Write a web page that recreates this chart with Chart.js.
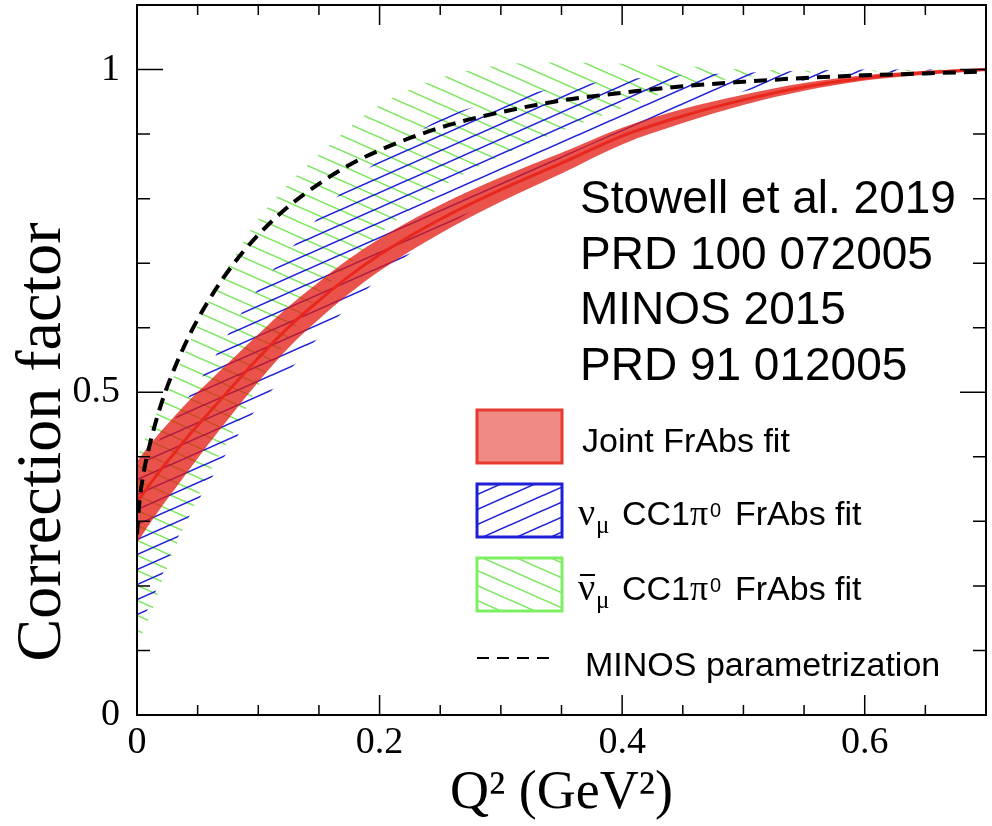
<!DOCTYPE html>
<html>
<head>
<meta charset="utf-8">
<script src="https://cdn.jsdelivr.net/npm/chart.js@4.4.1/dist/chart.umd.min.js"></script>
<style>
  html, body { margin: 0; padding: 0; background: #fff; }
  #wrap { width: 992px; height: 826px; }
</style>
</head>
<body>
<div id="wrap"><canvas id="corrChart" width="992" height="826"></canvas></div>
<script>
// Q2 grid (GeV^2) shared by the fit bands
const q2 = [0, 0.005, 0.01, 0.02, 0.03, 0.045, 0.06, 0.08, 0.1, 0.125, 0.15, 0.175, 0.2, 0.25, 0.3, 0.35, 0.4, 0.45, 0.5, 0.55, 0.6, 0.65, 0.7];

// joint FrAbs fit (red band + central line)
const jointLow  = [0.267, 0.281, 0.295, 0.322, 0.347, 0.385, 0.422, 0.470, 0.516, 0.569, 0.613, 0.653, 0.688, 0.746, 0.795, 0.839, 0.884, 0.917, 0.945, 0.967, 0.983, 0.992, 0.998];
const jointMid  = [0.330, 0.343, 0.356, 0.381, 0.404, 0.438, 0.470, 0.512, 0.553, 0.601, 0.642, 0.680, 0.713, 0.768, 0.814, 0.855, 0.897, 0.928, 0.953, 0.973, 0.987, 0.995, 1.000];
const jointHigh = [0.393, 0.405, 0.417, 0.440, 0.461, 0.491, 0.518, 0.554, 0.590, 0.633, 0.671, 0.707, 0.738, 0.790, 0.833, 0.871, 0.910, 0.939, 0.961, 0.979, 0.991, 0.998, 1.002];

// numu CC1pi0 fit (blue hatch)
const numuLow  = [0.130, 0.150, 0.168, 0.213, 0.260, 0.314, 0.362, 0.424, 0.478, 0.532, 0.586, 0.634, 0.677, 0.750, 0.808, 0.862, 0.904, 0.940, 0.966, 0.983, 0.993, 0.998, 1.000];
const numuHigh = [0.375, 0.390, 0.405, 0.430, 0.455, 0.500, 0.542, 0.605, 0.660, 0.718, 0.772, 0.822, 0.860, 0.923, 0.953, 0.972, 0.984, 0.991, 0.995, 0.998, 1.000, 1.000, 1.000];

// numubar CC1pi0 fit (green hatch)
const numubarLow  = [0.100, 0.130, 0.150, 0.203, 0.253, 0.316, 0.377, 0.440, 0.510, 0.585, 0.652, 0.697, 0.745, 0.817, 0.866, 0.905, 0.940, 0.972, 0.988, 0.995, 0.998, 1.000, 1.000];
const numubarHigh = [0.400, 0.420, 0.445, 0.482, 0.523, 0.584, 0.644, 0.710, 0.768, 0.823, 0.868, 0.910, 0.945, 0.987, 1.007, 1.011, 1.009, 1.005, 1.000, 0.998, 0.997, 0.998, 1.000];

// MINOS parametrization (dashed)
const minosQ2    = [0, 0.002, 0.005, 0.01, 0.02, 0.03, 0.045, 0.06, 0.08, 0.1, 0.125, 0.15, 0.175, 0.2, 0.25, 0.3, 0.35, 0.4, 0.45, 0.5, 0.55, 0.6, 0.65, 0.7];
const minosParam = [0.280, 0.330, 0.370, 0.415, 0.482, 0.533, 0.595, 0.645, 0.700, 0.744, 0.788, 0.823, 0.852, 0.875, 0.910, 0.934, 0.952, 0.964, 0.974, 0.981, 0.987, 0.991, 0.994, 0.997];

const xTickLabels = [0, 0.2, 0.4, 0.6];
const yTickLabels = [0, 0.5, 1];
const infoLines = ['Stowell et al. 2019', 'PRD 100 072005', 'MINOS 2015', 'PRD 91 012005'];

const pts = (xs, ys) => xs.map((x, i) => ({x: x, y: ys[i]}));

function hatch(color, rising) {
  const w = 34, h = 15;
  const c = document.createElement('canvas');
  c.width = w; c.height = h;
  const g = c.getContext('2d');
  g.strokeStyle = color;
  g.lineWidth = 1.6;
  for (const dx of [-w, 0, w]) {
    for (const dy of [-h, 0, h]) {
      g.beginPath();
      if (rising) { g.moveTo(dx, h + dy); g.lineTo(w + dx, dy); }
      else { g.moveTo(dx, dy); g.lineTo(w + dx, h + dy); }
      g.stroke();
    }
  }
  return g.createPattern(c, 'repeat');
}

const bluePattern = hatch('#1f1fd8', true);
const greenPattern = hatch('#7de860', false);

// frame, inward ticks, legend and text, ROOT style
const decorations = {
  id: 'decorations',
  afterDraw(chart) {
    const ctx = chart.ctx;
    const a = chart.chartArea;
    const x = chart.scales.x, y = chart.scales.y;
    ctx.save();

    ctx.strokeStyle = '#000';
    ctx.lineWidth = 1.5;
    ctx.beginPath();
    for (let k = 1; k < 14; k++) {
      const px = x.getPixelForValue(k * 0.05);
      const len = k % 4 === 0 ? 20 : 10;
      ctx.moveTo(px, a.bottom); ctx.lineTo(px, a.bottom - len);
      ctx.moveTo(px, a.top); ctx.lineTo(px, a.top + len);
    }
    for (let k = 1; k <= 10; k++) {
      const py = y.getPixelForValue(k * 0.1);
      const len = k % 5 === 0 ? 26 : 13;
      ctx.moveTo(a.left, py); ctx.lineTo(a.left + len, py);
      ctx.moveTo(a.right, py); ctx.lineTo(a.right - len, py);
    }
    ctx.stroke();
    ctx.lineWidth = 2;
    ctx.strokeRect(a.left, a.top, a.right - a.left, a.bottom - a.top);

    // y axis title
    ctx.fillStyle = '#000';
    ctx.save();
    ctx.translate(43, 442);
    ctx.rotate(-Math.PI / 2);
    ctx.font = '64px "Liberation Serif"';
    ctx.textAlign = 'center';
    ctx.textBaseline = 'middle';
    ctx.fillText('Correction factor', 0, 0);
    ctx.restore();

    // reference text
    ctx.font = '46px "Liberation Sans"';
    ctx.textAlign = 'left';
    ctx.textBaseline = 'alphabetic';
    infoLines.forEach((t, i) => ctx.fillText(t, 580, 213 + i * 55.5));

    // legend
    const bx = 477, bw = 85, bh = 53;
    ctx.fillStyle = '#f08a84';
    ctx.fillRect(bx, 410, bw, bh);
    ctx.strokeStyle = '#e8392e'; ctx.lineWidth = 3;
    ctx.strokeRect(bx, 410, bw, bh);

    ctx.fillStyle = bluePattern;
    ctx.fillRect(bx, 484, bw, bh);
    ctx.strokeStyle = '#1f1fd8';
    ctx.strokeRect(bx, 484, bw, bh);

    ctx.fillStyle = greenPattern;
    ctx.fillRect(bx, 558, bw, bh);
    ctx.strokeStyle = '#7cf060';
    ctx.strokeRect(bx, 558, bw, bh);

    ctx.strokeStyle = '#000'; ctx.lineWidth = 2;
    ctx.setLineDash([12, 8]);
    ctx.beginPath(); ctx.moveTo(bx, 658); ctx.lineTo(bx + 78, 658); ctx.stroke();
    ctx.setLineDash([]);

    ctx.fillStyle = '#000';
    ctx.font = '34px "Liberation Sans"';
    ctx.fillText('Joint FrAbs fit', 582, 452);
    ctx.fillText('MINOS parametrization', 585, 676);

    [[525, false], [600, true]].forEach(([base, bar]) => {
      ctx.font = '38px "Liberation Serif"';
      ctx.fillText('ν', 578, base);
      if (bar) {
        ctx.lineWidth = 2;
        ctx.beginPath(); ctx.moveTo(580, base - 25); ctx.lineTo(595, base - 25); ctx.stroke();
      }
      ctx.font = '25px "Liberation Serif"';
      ctx.fillText('μ', 596, base + 8);
      ctx.font = '34px "Liberation Sans"';
      ctx.fillText('CC1', 622, base);
      ctx.font = '36px "Liberation Serif"';
      ctx.fillText('π', 690, base);
      ctx.font = '20px "Liberation Sans"';
      ctx.fillText('0', 710, base - 8);
      ctx.font = '34px "Liberation Sans"';
      ctx.fillText('FrAbs fit', 735, base);
    });

    ctx.restore();
  }
};

const data = {
  datasets: [
    {
      label: 'MINOS parametrization',
      data: pts(minosQ2, minosParam),
      borderColor: '#000',
      borderWidth: 4,
      borderDash: [13, 8],
      fill: false,
      order: 0
    },
    {
      label: 'Joint FrAbs fit',
      data: pts(q2, jointMid),
      borderColor: '#e8281e',
      borderWidth: 3,
      fill: false,
      order: 1
    },
    {
      label: 'Joint FrAbs fit band',
      data: pts(q2, jointHigh),
      borderWidth: 0,
      backgroundColor: 'rgba(225,25,15,0.75)',
      fill: '+1',
      order: 2
    },
    {
      label: 'joint low',
      data: pts(q2, jointLow),
      borderWidth: 0,
      fill: false,
      order: 2
    },
    {
      label: 'νμ CC1π0 FrAbs fit',
      data: pts(q2, numuHigh),
      borderWidth: 0,
      backgroundColor: bluePattern,
      fill: '+1',
      order: 3
    },
    {
      label: 'numu low',
      data: pts(q2, numuLow),
      borderWidth: 0,
      fill: false,
      order: 3
    },
    {
      label: 'anti-νμ CC1π0 FrAbs fit',
      data: pts(q2, numubarHigh),
      borderWidth: 0,
      backgroundColor: greenPattern,
      fill: '+1',
      order: 4
    },
    {
      label: 'numubar low',
      data: pts(q2, numubarLow),
      borderWidth: 0,
      fill: false,
      order: 4
    }
  ]
};

const config = {
  type: 'line',
  data: data,
  options: {
    responsive: false,
    animation: false,
    devicePixelRatio: 1,
    layout: { padding: { left: 0, top: 5, right: 6, bottom: 0 } },
    elements: {
      point: { radius: 0 },
      line: { cubicInterpolationMode: 'monotone' }
    },
    plugins: {
      legend: { display: false },
      tooltip: { enabled: false }
    },
    scales: {
      x: {
        type: 'linear',
        min: 0,
        max: 0.7,
        grid: { display: false, drawTicks: false },
        border: { display: false },
        afterBuildTicks: axis => { axis.ticks = xTickLabels.map(v => ({value: v})); },
        afterFit: axis => {
          axis.height = 111;
          axis.paddingLeft = 0;
          axis.paddingRight = 0;
        },
        ticks: {
          color: '#000',
          padding: 5,
          maxRotation: 0,
          callback: v => String(v),
          font: { family: 'Liberation Serif', size: 38 }
        },
        title: {
          display: true,
          text: 'Q² (GeV²)',
          color: '#000',
          padding: { top: 0, bottom: 0 },
          font: { family: 'Liberation Serif', size: 54 }
        }
      },
      y: {
        type: 'linear',
        min: 0,
        max: 1.1,
        grid: { display: false, drawTicks: false },
        border: { display: false },
        afterBuildTicks: axis => { axis.ticks = yTickLabels.map(v => ({value: v})); },
        afterFit: axis => {
          axis.width = 137;
          axis.paddingTop = 0;
          axis.paddingBottom = 0;
        },
        ticks: {
          color: '#000',
          padding: 17,
          callback: v => String(v),
          font: { family: 'Liberation Serif', size: 38 }
        }
      }
    }
  },
  plugins: [decorations]
};

const corrChart = new Chart('corrChart', config);
</script>
</body>
</html>
